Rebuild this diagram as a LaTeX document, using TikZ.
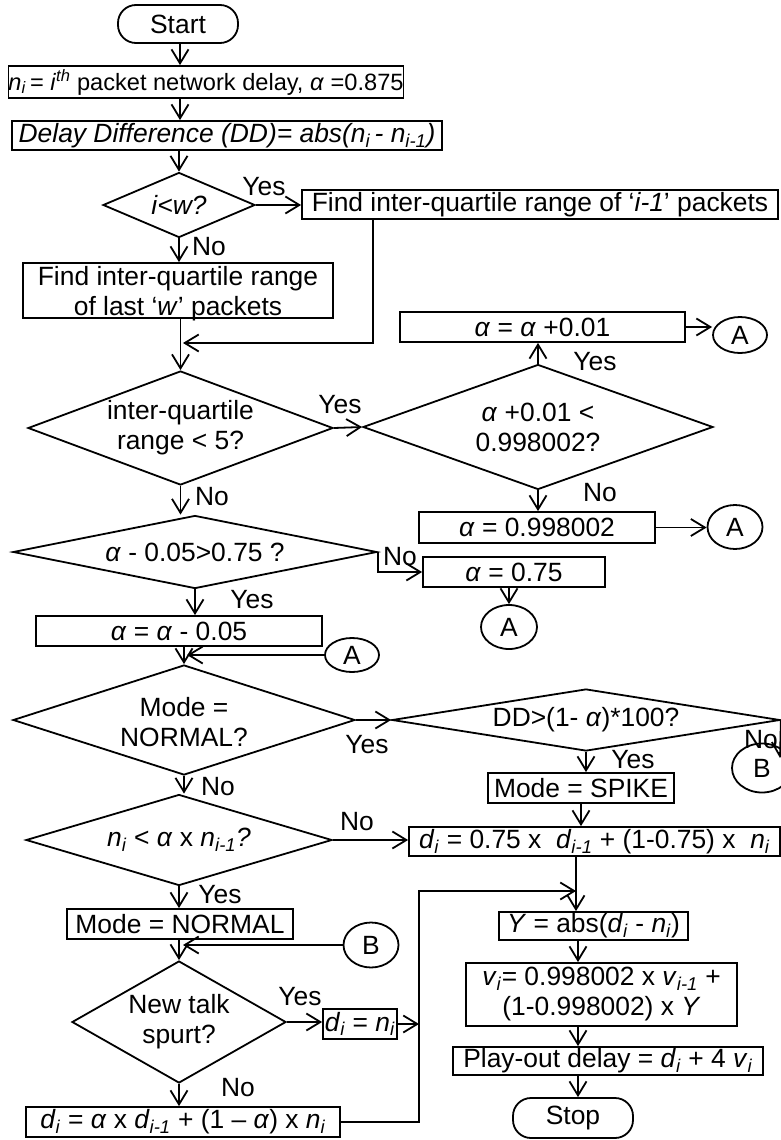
\documentclass[tikz,border=0pt]{standalone}
\usepackage{fontspec}
\setmainfont{Liberation Sans}
\usetikzlibrary{shapes.geometric,arrows.meta}
\newcommand\vi[1]{\textit{#1}}
\newcommand\sbi[1]{\textsubscript{\textit{#1}}}
\begin{document}
\begin{tikzpicture}[x=1pt,y=-1pt,
  font=\fontsize{26.4}{30}\selectfont,
  line width=1.8pt,
  box/.style={draw, rectangle, inner sep=0pt, align=center},
  dia/.style={draw, diamond, inner sep=0pt},
  conn/.style={draw, ellipse, inner sep=0pt},
  term/.style={draw, rectangle, rounded corners=18pt, inner sep=0pt},
  txt/.style={inner sep=0pt, align=center},
  lbl/.style={inner sep=0pt},
  arr/.style={-{Straight Barb[length=14pt,width=17pt]}}]
\useasboundingbox (0,0) rectangle (781,1140);
\fill[white] (0,0) rectangle (781,1140);

% nodes
\node[term, minimum width=120, minimum height=38] (start) at (178,24) {Start};
\node[box, minimum width=388, minimum height=32, font=\fontsize{23.6}{28}\selectfont] (b1) at (206,82)
  {\vi{n}\sbi{i}\,= \vi{i}\textsuperscript{\vi{th}} packet network delay, \vi{α} =0.875};
\node[box, minimum width=430, minimum height=29] (b2) at (227,135.5)
  {\vi{Delay Difference (DD)= abs(n\textsubscript{i}\,- n\textsubscript{i-1})}};
\node[dia, minimum width=152, minimum height=65] (d1) at (179,205) {};
\node[txt] (d1t) at (179,205) {\vi{i<w?}};
\node[box, minimum width=476, minimum height=29] (b3) at (540,204.5)
  {Find inter-quartile range of ‘\vi{i-1}’ packets};
\node[box, minimum width=310, minimum height=55, text depth=0pt] (b4) at (178,290.5)
  {Find inter-quartile range\\of last ‘\vi{w}’ packets};
\node[dia, minimum width=305, minimum height=114] (d2) at (180.5,428) {};
\node[txt] (d2t) at (180.5,428) {inter-quartile\\range < 5?};
\node[dia, minimum width=350, minimum height=125] (d3) at (538,427) {};
\node[txt] (d3t) at (538,427) {\vi{α} +0.01 <\\0.998002?};
\node[box, minimum width=285, minimum height=30] (b5) at (542.5,327) {\vi{α} = \vi{α} +0.01};
\node[conn, minimum width=54, minimum height=36] (A1) at (740,335) {\raisebox{-5pt}{A}};
\node[box, minimum width=236, minimum height=31] (b6) at (537,527.5) {\vi{α} = 0.998002};
\node[conn, minimum width=55, minimum height=44] (A2) at (735,527) {\raisebox{-5pt}{A}};
\node[dia, minimum width=364, minimum height=73] (d4) at (195,552) {};
\node[txt] (d4t) at (195,552) {\vi{α} - 0.05>0.75 ?};
\node[box, minimum width=182, minimum height=30] (b7) at (514,572) {\vi{α} = 0.75};
\node[conn, minimum width=56, minimum height=44] (A3) at (509,627) {\raisebox{-5pt}{A}};
\node[box, minimum width=286, minimum height=30] (b8) at (179,631) {\vi{α} = \vi{α} - 0.05};
\node[conn, minimum width=54, minimum height=34] (A4) at (352,655) {\raisebox{-4pt}{A}};
\node[dia, minimum width=342, minimum height=110] (d5) at (184,720) {};
\node[txt] (d5t) at (184,722) {Mode =\\NORMAL?};
\node[dia, minimum width=388, minimum height=62] (d6) at (586,720) {};
\node[txt] (d6t) at (586,720) {DD>(1- \vi{α})*100?};
\node[conn, minimum width=60, minimum height=49] (B1) at (762,768) {\raisebox{-5pt}{B}};
\node[box, minimum width=186, minimum height=30] (b9) at (581,788) {Mode = SPIKE};
\node[box, minimum width=371, minimum height=29] (b10) at (594.5,841.5)
  {\vi{d}\sbi{i} = 0.75 x\ \ \vi{d}\sbi{i-1} + (1-0.75) x\ \ \vi{n}\sbi{i}};
\node[dia, minimum width=306, minimum height=91] (d7) at (179,840) {};
\node[txt] (d7t) at (179,840) {\vi{n}\sbi{i} < \vi{α} x \vi{n}\sbi{i-1}\vi{?}};
\node[box, minimum width=226, minimum height=30] (b11) at (180,924) {Mode = NORMAL};
\node[conn, minimum width=55, minimum height=45] (B2) at (371,945) {\raisebox{-5pt}{B}};
\node[dia, minimum width=214, minimum height=122] (d8) at (179,1022) {};
\node[txt] (d8t) at (179,1022) {New talk\\spurt?};
\node[box, minimum width=74, minimum height=30] (b12) at (360,1024) {\vi{d}\sbi{i} = \vi{n}\sbi{i}};
\node[box, minimum width=314, minimum height=30] (b14) at (183,1122)
  {\vi{d}\sbi{i} = \vi{α} x \vi{d}\sbi{i-1} + (1 – \vi{α}) x \vi{n}\sbi{i}};
\node[box, minimum width=189, minimum height=28] (b13) at (593.5,926)
  {\vi{Y} = abs(\vi{d}\sbi{i} - \vi{n}\sbi{i})};
\node[box, minimum width=271, minimum height=63] (b15) at (601.5,994.5)
  {\vi{v}\sbi{i}= 0.998002 x \vi{v}\sbi{i-1} +\\(1-0.998002) x \vi{Y}};
\node[box, minimum width=310, minimum height=28] (b16) at (608,1061)
  {Play-out delay = \vi{d}\sbi{i} + 4 \vi{v}\sbi{i}};
\node[term, minimum width=120, minimum height=40] (stop) at (573,1118) {Stop};

% helper coordinates
\coordinate (cx) at (180,0);
\coordinate (j1x) at (373,0);
\coordinate (j1) at (183,343);
\coordinate (B1tip) at (780,758);
\coordinate (bt) at (419,891);
\coordinate (jn) at (576,891);
\coordinate (c2) at (578,0);

% connectors
\draw[arr] (start.south -| cx) -- (b1.north -| cx);
\draw[arr] (b1.south -| cx) -- (b2.north -| cx);
\draw[arr] (b2.south -| d1.north) -- (d1.north);
\draw[arr] (d1.east) -- (d1.east -| b3.west);
\draw[arr] (d1.south) -- (d1.south |- b4.north);
\draw[arr] (b3.south -| j1x) |- (j1);
\draw[arr] (b4.south -| d2.north) -- (d2.north);
\draw[arr] (d2.east) -- (d3.west);
\draw[arr] (d3.north) -- (d3.north |- b5.south);
\draw[arr] (b5.east) -- (b5.east -| A1.west);
\draw[arr] (d3.south) -- (d3.south |- b6.north);
\draw[arr] (b6.east) -- (b6.east -| A2.west);
\draw[arr] (d2.south) -- (d2.south |- d4.north);
\draw[arr] (d4.east) |- (b7.west);
\draw[arr] (A3.north |- b7.south) -- (A3.north);
\draw[arr] (d4.south) -- (d4.south |- b8.north);
\draw[arr] (d5.north |- b8.south) -- (d5.north);
\draw[arr] (A4.west) -- ([xshift=3pt]A4.west -| d5.north);
\draw[arr] (d5.east) -- (d6.west);
\draw[arr] (d6.south) -- (d6.south |- b9.north);
\draw[arr] (d6.east) -- (B1tip);
\draw[arr] (b9.south) -- (b9.south |- b10.north);
\draw[arr] (d5.south) -- (d5.south |- d7.north);
\draw[arr] (d7.east) -- (d7.east -| b10.west);
\draw[arr] (d7.south) -- (d7.south |- b11.north);
\draw[arr] (b11.south -| d8.north) -- (d8.north);
\draw[arr] (B2.west) -- ([xshift=4pt]B2.west -| d8.north);
\draw[arr] (d8.east) -- (d8.east -| b12.west);
\draw[arr] (d8.south) -- (d8.south |- b14.north);
\draw[arr] (b12.east) -- (b12.east -| bt);
\draw[arr] (b14.east) -| (bt) -- (jn);
\draw[arr] (b10.south -| jn) -- (b13.north -| jn);
\draw[arr] (b13.south -| c2) -- (b15.north -| c2);
\draw[arr] (b15.south -| c2) -- (b16.north -| c2);
\draw[arr] (b16.south -| c2) -- (stop.north -| c2);

% labels
\node[lbl] (l1) at (264,187) {Yes};
\node[lbl] (l2) at (209,247) {No};
\node[lbl] (l3) at (340,405) {Yes};
\node[lbl] (l4) at (595,362) {Yes};
\node[lbl] (l5) at (600,493) {No};
\node[lbl] (l6) at (212,497) {No};
\node[lbl] (l7) at (400,557) {No};
\node[lbl] (l8) at (252,600) {Yes};
\node[lbl] (l9) at (367,745) {Yes};
\node[lbl] (l10) at (633,760) {Yes};
\node[lbl] (l11) at (761,740) {No};
\node[lbl] (l12) at (218,787) {No};
\node[lbl] (l13) at (357,822) {No};
\node[lbl] (l14) at (220,895) {Yes};
\node[lbl] (l15) at (300,997) {Yes};
\node[lbl] (l16) at (238,1088) {No};
\end{tikzpicture}
\end{document}
